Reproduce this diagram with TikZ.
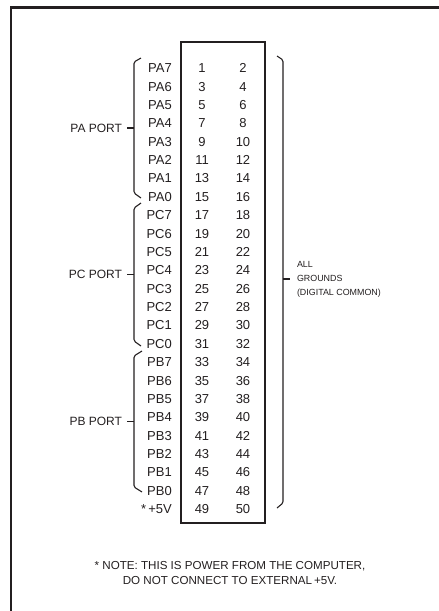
\documentclass[tikz,border=0pt]{standalone}
\usepackage{fontspec}
\setmainfont{Liberation Sans}
\usepackage{tikz}
\usetikzlibrary{positioning}

\definecolor{ink}{RGB}{35,31,32}

\begin{document}
\begin{tikzpicture}[
    x=1pt, y=-1pt,
    pinnum/.style={
        inner sep=0pt, text height=9.3pt, text depth=0pt,
        font=\fontsize{13}{15}\selectfont, text=ink
    },
    pinlbl/.style={pinnum, anchor=east},
    port/.style={
        anchor=east, inner sep=0pt, outer sep=5pt,
        text height=8.5pt, text depth=0pt,
        font=\fontsize{12}{14}\selectfont, text=ink
    },
    brc/.style={draw=ink, line width=1.1pt, rounded corners=1.5pt},
    note/.style={font=\fontsize{11.6}{15}\selectfont, text=ink, align=center}
]
    \useasboundingbox (0,0) rectangle (439,611);

    % Outer frame (open to the right and bottom)
    \draw[ink, line width=2.6pt] (11,611) -- (11,7.5) -- (439,7.5);

    % Connector body
    \node[draw=ink, line width=2.2pt, minimum width=84pt, minimum height=481pt,
          inner sep=0pt] (conn) at (223,282.5) {};

    % Pin rows: signal name, odd pin, even pin
    \node[pinlbl] (pa7) at (172,68.0)  {PA7}; \node[pinnum] (n1)  at (202,68.0)  {1};  \node[pinnum] (n2)  at (243,68.0)  {2};
    \node[pinlbl] (pa6) at (172,86.4)  {PA6}; \node[pinnum] (n3)  at (202,86.4)  {3};  \node[pinnum] (n4)  at (243,86.4)  {4};
    \node[pinlbl] (pa5) at (172,104.8) {PA5}; \node[pinnum] (n5)  at (202,104.8) {5};  \node[pinnum] (n6)  at (243,104.8) {6};
    \node[pinlbl] (pa4) at (172,123.1) {PA4}; \node[pinnum] (n7)  at (202,123.1) {7};  \node[pinnum] (n8)  at (243,123.1) {8};
    \node[pinlbl] (pa3) at (172,141.5) {PA3}; \node[pinnum] (n9)  at (202,141.5) {9};  \node[pinnum] (n10) at (243,141.5) {10};
    \node[pinlbl] (pa2) at (172,159.9) {PA2}; \node[pinnum] (n11) at (202,159.9) {11}; \node[pinnum] (n12) at (243,159.9) {12};
    \node[pinlbl] (pa1) at (172,178.3) {PA1}; \node[pinnum] (n13) at (202,178.3) {13}; \node[pinnum] (n14) at (243,178.3) {14};
    \node[pinlbl] (pa0) at (172,196.6) {PA0}; \node[pinnum] (n15) at (202,196.6) {15}; \node[pinnum] (n16) at (243,196.6) {16};
    \node[pinlbl] (pc7) at (172,215.0) {PC7}; \node[pinnum] (n17) at (202,215.0) {17}; \node[pinnum] (n18) at (243,215.0) {18};
    \node[pinlbl] (pc6) at (172,233.4) {PC6}; \node[pinnum] (n19) at (202,233.4) {19}; \node[pinnum] (n20) at (243,233.4) {20};
    \node[pinlbl] (pc5) at (172,251.8) {PC5}; \node[pinnum] (n21) at (202,251.8) {21}; \node[pinnum] (n22) at (243,251.8) {22};
    \node[pinlbl] (pc4) at (172,270.1) {PC4}; \node[pinnum] (n23) at (202,270.1) {23}; \node[pinnum] (n24) at (243,270.1) {24};
    \node[pinlbl] (pc3) at (172,288.5) {PC3}; \node[pinnum] (n25) at (202,288.5) {25}; \node[pinnum] (n26) at (243,288.5) {26};
    \node[pinlbl] (pc2) at (172,306.9) {PC2}; \node[pinnum] (n27) at (202,306.9) {27}; \node[pinnum] (n28) at (243,306.9) {28};
    \node[pinlbl] (pc1) at (172,325.3) {PC1}; \node[pinnum] (n29) at (202,325.3) {29}; \node[pinnum] (n30) at (243,325.3) {30};
    \node[pinlbl] (pc0) at (172,343.6) {PC0}; \node[pinnum] (n31) at (202,343.6) {31}; \node[pinnum] (n32) at (243,343.6) {32};
    \node[pinlbl] (pb7) at (172,362.0) {PB7}; \node[pinnum] (n33) at (202,362.0) {33}; \node[pinnum] (n34) at (243,362.0) {34};
    \node[pinlbl] (pb6) at (172,380.4) {PB6}; \node[pinnum] (n35) at (202,380.4) {35}; \node[pinnum] (n36) at (243,380.4) {36};
    \node[pinlbl] (pb5) at (172,398.8) {PB5}; \node[pinnum] (n37) at (202,398.8) {37}; \node[pinnum] (n38) at (243,398.8) {38};
    \node[pinlbl] (pb4) at (172,417.1) {PB4}; \node[pinnum] (n39) at (202,417.1) {39}; \node[pinnum] (n40) at (243,417.1) {40};
    \node[pinlbl] (pb3) at (172,435.5) {PB3}; \node[pinnum] (n41) at (202,435.5) {41}; \node[pinnum] (n42) at (243,435.5) {42};
    \node[pinlbl] (pb2) at (172,453.9) {PB2}; \node[pinnum] (n43) at (202,453.9) {43}; \node[pinnum] (n44) at (243,453.9) {44};
    \node[pinlbl] (pb1) at (172,472.3) {PB1}; \node[pinnum] (n45) at (202,472.3) {45}; \node[pinnum] (n46) at (243,472.3) {46};
    \node[pinlbl] (pb0) at (172,490.6) {PB0}; \node[pinnum] (n47) at (202,490.6) {47}; \node[pinnum] (n48) at (243,490.6) {48};
    \node[pinlbl] (vcc) at (172,509.0) {*\,+5V}; \node[pinnum] (n49) at (202,509.0) {49}; \node[pinnum] (n50) at (243,509.0) {50};

    % Port brackets on the left
    \draw[brc] (141,58)  -- (134,62)  -- (134,193) -- (141,198);
    \draw[brc] (141,203) -- (134,208) -- (134,341) -- (141,346);
    \draw[brc] (142,351) -- (134,356) -- (134,487) -- (142,492);

    \coordinate (pamid) at (134,128);
    \coordinate (pcmid) at (134,274.5);
    \coordinate (pbmid) at (134,421.5);

    \node[port] (paport) at (127,128)   {PA PORT};
    \node[port] (pcport) at (127,274.5) {PC PORT};
    \node[port] (pbport) at (127,421.5) {PB PORT};

    \draw[brc] (paport.east) -- (pamid);
    \draw[brc] (pcport.east) -- (pcmid);
    \draw[brc] (pbport.east) -- (pbmid);

    % Ground bracket on the right
    \draw[brc] (277,56) -- (283,60) -- (283,503) -- (277,508);
    \coordinate (gndmid) at (283,279);
    \node[anchor=west, align=left, inner sep=0pt, outer sep=7pt,
          font=\fontsize{8.9}{14}\selectfont, text=ink]
        (gnd) at (290,279) {ALL\\GROUNDS\\(DIGITAL COMMON)};
    \draw[brc] (gndmid) -- (gnd.west);

    % Footnote
    \node[note] (fnote) at (230,572.5)
        {* NOTE: THIS IS POWER FROM THE COMPUTER,\\DO NOT CONNECT TO EXTERNAL\,+5V.};
\end{tikzpicture}
\end{document}
